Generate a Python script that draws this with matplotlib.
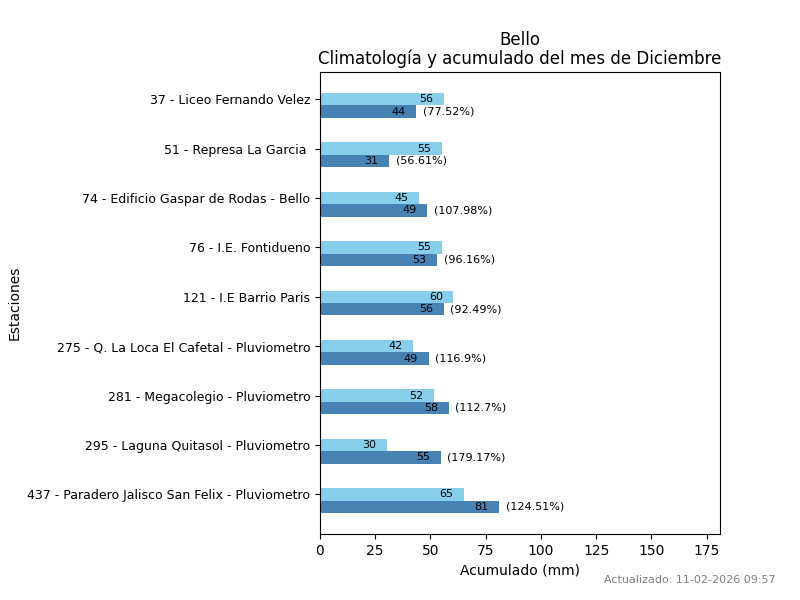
import matplotlib
matplotlib.use("Agg")
import matplotlib.pyplot as plt
import numpy as np

stations = [
    "37 - Liceo Fernando Velez",
    "51 - Represa La Garcia ",
    "74 - Edificio Gaspar de Rodas - Bello",
    "76 - I.E. Fontidueno",
    "121 - I.E Barrio Paris",
    "275 - Q. La Loca El Cafetal - Pluviometro",
    "281 - Megacolegio - Pluviometro",
    "295 - Laguna Quitasol - Pluviometro",
    "437 - Paradero Jalisco San Felix - Pluviometro",
]
clim = [56.1, 55.2, 44.8, 55.1, 60.4, 42.0, 51.6, 30.4, 65.1]
acc = [43.5, 31.2, 48.6, 53.0, 55.9, 49.1, 58.2, 54.6, 81.0]
pct = ["77.52", "56.61", "107.98", "96.16", "92.49", "116.9", "112.7", "179.17", "124.51"]

fig = plt.figure(figsize=(8, 6), dpi=100)
ax = fig.add_subplot(111)
fig.subplots_adjust(left=0.4, right=0.9, bottom=0.11, top=0.88)

n = len(stations)
y = np.arange(n)[::-1]
h = 0.25
ax.barh(y, clim, height=h, color="skyblue")
ax.barh(y - h, acc, height=h, color="steelblue")

for yi, c, a, p in zip(y, clim, acc, pct):
    ax.text(c - 8, yi, f"{c:.0f}", ha="center", va="center", fontsize=8)
    ax.text(a - 8, yi - h, f"{a:.0f}", ha="center", va="center", fontsize=8)
    ax.text(a + 3, yi - h, f"({p}%)", ha="left", va="center", fontsize=8)

ax.set_yticks(y)
ax.set_yticklabels(stations, fontsize=9)
ax.set_xlim(0, 181)
ax.set_xlabel("Acumulado (mm)")
ax.set_ylabel("Estaciones")
ax.set_title("Bello\nClimatología y acumulado del mes de Diciembre", linespacing=1.0)
fig.text(0.97, 0.025, "Actualizado: 11-02-2026 09:57", ha="right", va="bottom",
         fontsize=8, color="gray")

fig.savefig("out.png", dpi=100)
